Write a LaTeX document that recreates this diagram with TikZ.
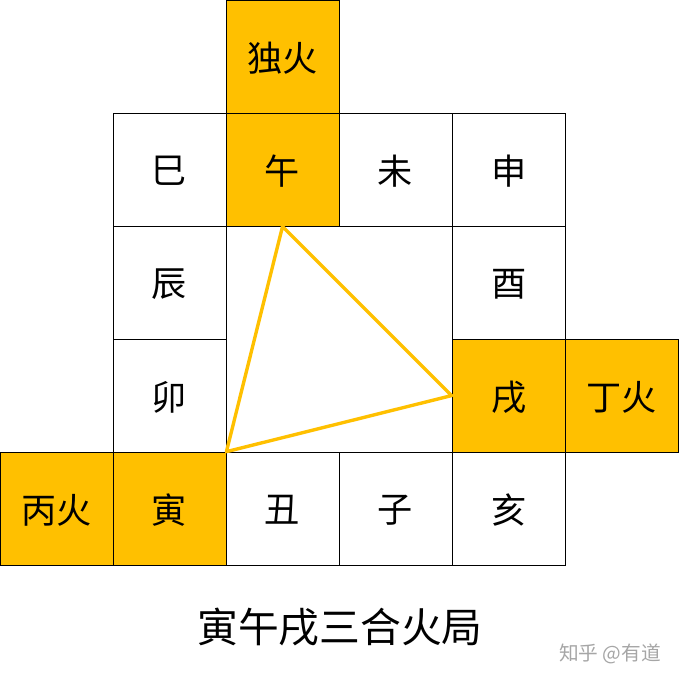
\documentclass[tikz,border=0pt]{standalone}
\usepackage{fontspec}
\setmainfont{Noto Sans CJK SC}
\usetikzlibrary{positioning}
\definecolor{huo}{HTML}{FFC000}
\tikzset{
    node distance=2.825cm,
    cell/.style={draw, line width=0.6pt, minimum size=2.825cm, inner sep=0pt, text depth=-2pt, font=\fontsize{25}{29}\selectfont},
    firecell/.style={cell, fill=huo},
}

\begin{document}
\begin{tikzpicture}[x=0.025cm, y=-0.025cm]
                \useasboundingbox (0,0) rectangle (680,680);
                \node[cell] (si) at (169.5,169.5) {巳};
                \node[firecell, right of=si] (wu) {午};
                \node[cell, right of=wu] (wei) {未};
                \node[cell, right of=wei] (shen) {申};
                \node[firecell, above of=wu] (duhuo) {独火};
                \node[cell, below of=si] (chen) {辰};
                \node[cell, below of=chen] (mao) {卯};
                \node[firecell, below of=mao] (yin) {寅};
                \node[firecell, left of=yin] (binghuo) {丙火};
                \node[cell, right of=yin] (chou) {丑};
                \node[cell, right of=chou] (zi) {子};
                \node[cell, right of=zi] (hai) {亥};
                \node[cell, below of=shen] (you) {酉};
                \node[firecell, below of=you] (xu) {戌};
                \node[firecell, right of=xu] (dinghuo) {丁火};

                \draw[huo, line width=2.4pt, line join=round]
                      (wu.south) -- (xu.west) -- (yin.north east) -- cycle;

                \node[font=\fontsize{29}{34}\selectfont] (title) at (340,627) {寅午戌三合火局};
                \node[gray!70, font=\fontsize{14}{17}\selectfont] (mark) at (610,654) {知乎 @有道};
            \end{tikzpicture}
\end{document}
